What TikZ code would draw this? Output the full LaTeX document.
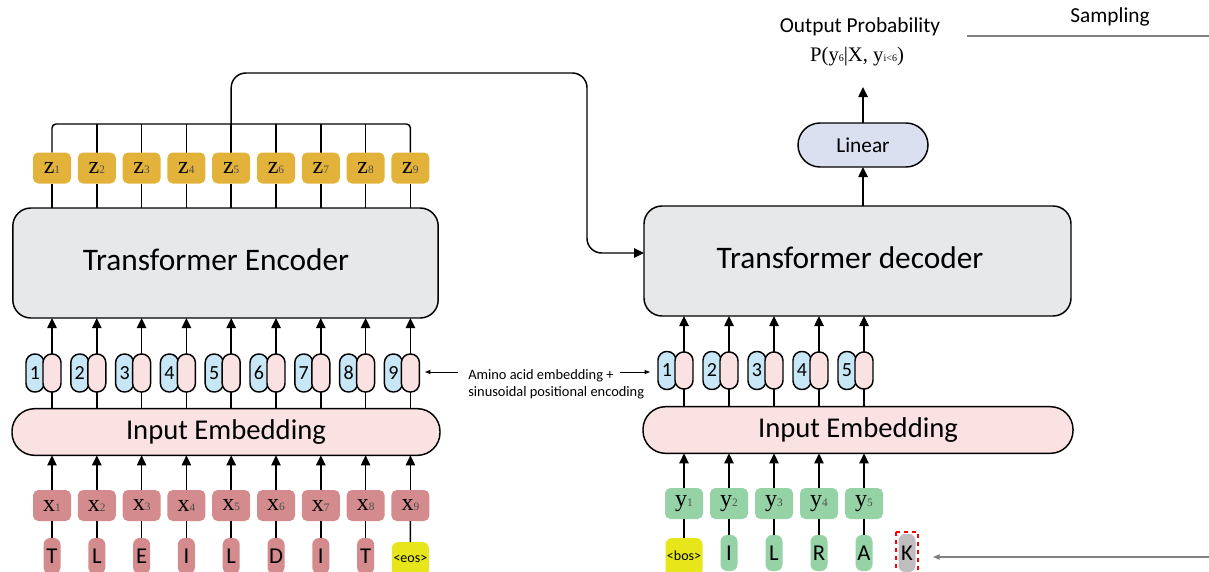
\documentclass[tikz,border=0pt]{standalone}
\usepackage{fontspec}
\setmainfont{Carlito}
\newfontfamily\serifA{Liberation Serif}
\usetikzlibrary{arrows.meta,calc}
\definecolor{zcol}{HTML}{E3B23A}
\definecolor{xcol}{HTML}{D48B8E}
\definecolor{ycol}{HTML}{95D3A7}
\definecolor{encgray}{HTML}{E7E8EA}
\definecolor{embpink}{HTML}{FAE2E2}
\definecolor{posblue}{HTML}{C7E7F7}
\definecolor{tokyellow}{HTML}{E6E61A}
\definecolor{kgray}{HTML}{BEBEC0}
\definecolor{lincol}{HTML}{DAE0EF}
\newcommand{\zl}[2]{{\serifA\fontsize{18}{18}\selectfont #1}{\serifA\fontsize{8.5}{8.5}\selectfont\color{black!70}#2}}
\pgfdeclarelayer{bg}
\pgfsetlayers{bg,main}
\begin{document}
\begin{tikzpicture}[x=0.75pt,y=-0.75pt,
  ln/.style={line width=1.1pt, draw=black},
  arr/.style={line width=1.1pt, draw=black, -{Triangle[length=7.5pt,width=7pt]}},
  thinarr/.style={line width=0.6pt, draw=black, -{Triangle[length=4pt,width=3pt]}},
  grayarr/.style={line width=0.8pt, draw=black!50, -{Triangle[length=5pt,width=4pt]}},
  zbox/.style={fill=zcol, rounded corners=4pt, minimum width=28.5pt, minimum height=23.25pt, inner sep=0pt, outer sep=0pt},
  xbox/.style={zbox, fill=xcol},
  ybox/.style={zbox, fill=ycol},
  pbox/.style={draw=black, line width=1.1pt, fill=embpink, rounded corners=6.5pt, minimum width=13.5pt, minimum height=28.5pt, inner sep=0pt, outer sep=0pt},
  bbox/.style={pbox, fill=posblue, font=\fontsize{15}{15}\selectfont},
  lbox/.style={fill=xcol, rounded corners=5pt, minimum width=12.75pt, minimum height=27pt, inner sep=0pt, outer sep=0pt, font=\fontsize{17}{17}\selectfont},
  glbox/.style={lbox, fill=ycol},
  tokbox/.style={fill=tokyellow, rounded corners=5pt, minimum width=27.75pt, minimum height=30pt, inner sep=0pt, outer sep=0pt, font=\fontsize{10.5}{10.5}\selectfont},
  bigbox/.style={draw=black, line width=1.1pt, fill=encgray, rounded corners=13.5pt, minimum width=319pt, minimum height=82.5pt, inner sep=0pt, outer sep=0pt},
  embbox/.style={draw=black, line width=1.1pt, fill=embpink, rounded corners=17pt, minimum height=35pt, inner sep=0pt, outer sep=0pt, font=\fontsize{21.5}{21.5}\selectfont},
]
\useasboundingbox (0,0) rectangle (1209,571);
\clip (0,0) rectangle (1209,571);

% ---------------- Encoder ----------------
\node[bigbox] (enc) at (225.5,263) {};
\node[font=\fontsize{23.5}{23.5}\selectfont] (enctext) at (216,260) {Transformer Encoder};
\node[embbox, minimum width=321pt] (encemb) at (226,432) {Input Embedding};

\coordinate (busY) at (0,124);
\coordinate (topY) at (0,73);
\coordinate (bendX) at (587,0);
\coordinate (arrY) at (0,253);

\foreach \i/\t in {1/T,2/L,3/E,4/I,5/L,6/D,7/I,8/T}{
  \pgfmathsetmacro\cx{52+44.8*(\i-1)}
  \node[lbox] (l\i) at (\cx,556) {\t};
}
\node[tokbox] (l9) at (410.4,562) {\raisebox{4.5pt}{<eos>}};

\foreach \i in {1,...,9}{
  \pgfmathsetmacro\cx{52+44.8*(\i-1)}
  \node[zbox] (z\i) at (\cx,168) {\zl{z}{\i}};
  \node[xbox] (x\i) at (\cx,505.5) {\zl{x}{\i}};
  \node[bbox] (b\i) at (\cx-17,373) {\i};
  \node[pbox] (p\i) at (\cx,373) {};
  \draw[arr] (p\i.north) -- (p\i.north |- enc.south);
  \draw[ln] (p\i.south) -- (p\i.south |- encemb.north);
  \draw[arr] (x\i.north) -- (x\i.north |- encemb.south);
  \draw[ln] (x\i.south) -- (l\i.north);
}

% ---------------- Decoder ----------------
\node[bigbox, minimum width=320.25pt] (dec) at (857.5,261) {};
\node[font=\fontsize{23.5}{23.5}\selectfont] (dectext) at (850,258) {Transformer decoder};
\node[embbox, minimum width=322.5pt] (decemb) at (858,430) {Input Embedding};
\node[draw=black, line width=1.1pt, fill=lincol, rounded corners=16.5pt, minimum width=97.5pt, minimum height=33pt, inner sep=0pt, outer sep=0pt, font=\fontsize{16}{16}\selectfont] (lin) at (863,145) {Linear};

\node[tokbox] (m1) at (684,558) {\raisebox{3.75pt}{<bos>}};
\foreach \i/\t in {2/I,3/L,4/R,5/A}{
  \pgfmathsetmacro\cx{684+45*(\i-1)}
  \node[glbox] (m\i) at (\cx,553) {\t};
}
\node[lbox, fill=kgray, minimum height=28.5pt] (K) at (907,553) {K};
\draw[red, dashed, line width=0.8pt] (896,532) rectangle (918,600);

\foreach \i in {1,...,5}{
  \pgfmathsetmacro\cx{684+45*(\i-1)}
  \node[ybox] (y\i) at (\cx,503.5) {\zl{y}{\i}};
  \node[bbox] (db\i) at (\cx-17,370.5) {\i};
  \node[pbox, minimum height=27.75pt] (dp\i) at (\cx,370.5) {};
  \draw[arr] (dp\i.north) -- (dp\i.north |- dec.south);
  \draw[ln] (dp\i.south) -- (dp\i.south |- decemb.north);
  \draw[arr] (y\i.north) -- (y\i.north |- decemb.south);
  \draw[ln] (y\i.south) -- (m\i.north);
}

\draw[arr] (dec.north -| lin.south) -- (lin.south);
\coordinate (outtip) at (863,87);
\draw[arr] (lin.north) -- (outtip);

\node[font=\fontsize{16}{16}\selectfont] (outlab) at (860,27) {Output Probability};
\node[font=\serifA\fontsize{15.5}{15.5}\selectfont] (prob) at (857,57) {P(y{\fontsize{7.5}{7.5}\selectfont 6}|X, y{\fontsize{7.5}{7.5}\selectfont i<6})};

\node[font=\fontsize{16}{16}\selectfont] (samp) at (1110,17) {Sampling};
\draw[black!50, line width=0.8pt] (967,36) -- (1209,36);

% sampled token arrow
\coordinate (kin) at (1209,557);
\coordinate (kout) at (933,557);
\draw[grayarr] (kin) -- (kout);

% annotation
\node[anchor=west, align=left, font=\fontsize{10.8}{12.75}\selectfont, inner sep=0pt] (amino) at (468,384.5) {Amino acid embedding +\\sinusoidal positional encoding};
\coordinate (aLs) at (458,372);
\coordinate (aLe) at (425,372);
\coordinate (aRs) at (620,372);
\coordinate (aRe) at (650,372);
\draw[thinarr] (aLs) -- (aLe);
\draw[thinarr] (aRs) -- (aRe);

% ---------------- background lines ----------------
\begin{pgfonlayer}{bg}
  \draw[ln, rounded corners=3pt] (z1) -- (z1 |- busY) -- (z9 |- busY) -- (z9);
  \foreach \i in {1,...,9}{
    \draw[ln] (z\i) -- (z\i |- enc.north);
  }
  \foreach \i in {2,...,8}{
    \draw[ln] (z\i |- busY) -- (z\i);
  }
  \draw[arr, rounded corners=11pt] (z5) -- (z5 |- topY) -- (bendX |- topY) -- (bendX |- arrY) -- (dec.west |- arrY);
\end{pgfonlayer}
\end{tikzpicture}
\end{document}
